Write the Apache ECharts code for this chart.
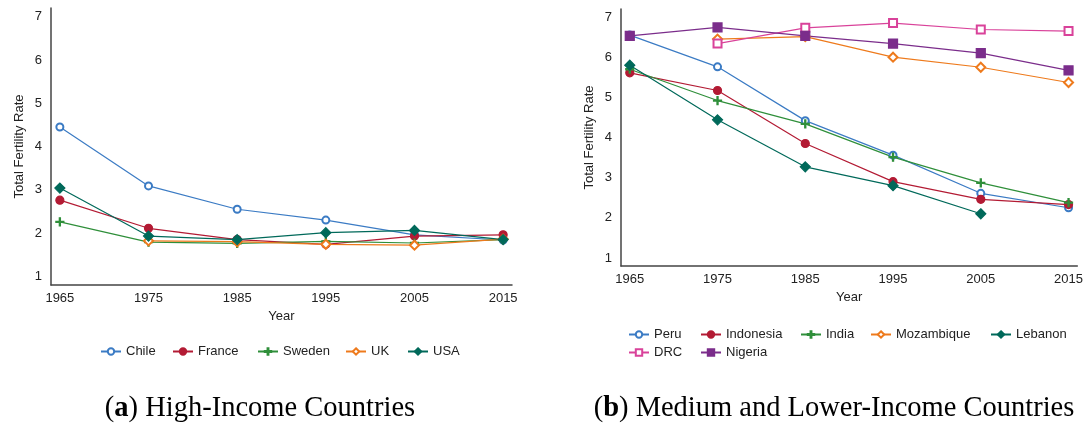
<!DOCTYPE html>
<html>
<head>
<meta charset="utf-8">
<script src="https://cdn.jsdelivr.net/npm/echarts@6/dist/echarts.min.js"></script>
<style>
  html, body { margin: 0; padding: 0; background: #fff; }
  #chart { width: 1086px; height: 425px; }
</style>
</head>
<body>
<div id="chart"></div>
<script>
// Survey years shared by both panels
const years = [1965, 1975, 1985, 1995, 2005, 2015];
const yTicks = [1, 2, 3, 4, 5, 6, 7];

// Panel (a): high-income countries, total fertility rate
const chile  = [4.45, 3.09, 2.55, 2.30, 1.96, 1.84];
const france = [2.76, 2.11, 1.85, 1.74, 1.93, 1.96];
const sweden = [2.26, 1.79, 1.76, 1.81, 1.77, 1.85];
const uk     = [null, 1.82, 1.80, 1.74, 1.72, 1.86];
const usa    = [3.04, 1.93, 1.85, 2.01, 2.06, 1.85];

// Panel (b): medium and lower-income countries
const peru       = [6.55, 5.76, 4.42, 3.56, 2.61, 2.25];
const indonesia  = [5.61, 5.17, 3.85, 2.90, 2.46, 2.33];
const india      = [5.70, 4.92, 4.34, 3.51, 2.87, 2.38];
const mozambique = [null, 6.45, 6.51, 6.00, 5.75, 5.37];
const lebanon    = [5.80, 4.44, 3.27, 2.80, 2.10, null];
const drc        = [null, 6.34, 6.73, 6.85, 6.69, 6.65];
const nigeria    = [6.53, 6.74, 6.53, 6.34, 6.10, 5.67];

const FONT = "'Liberation Sans', Arial, sans-serif";
const SERIF = "'Liberation Serif', 'Times New Roman', serif";
const TEXT = '#222';
const C = {
  blue: '#3b7bc4', red: '#b31b34', green: '#2f8f3a', orange: '#ee7a1c',
  teal: '#00695a', pink: '#d9429a', purple: '#7b2d8b'
};
const PLUS = 'path://M4.3,0 H5.7 V4.3 H10 V5.7 H5.7 V10 H4.3 V5.7 H0 V4.3 H4.3 Z';

function pairs(vals) {
  return years.map((y, i) => [y, vals[i]]);
}

function line(name, vals, idx, color, symbol, size) {
  return {
    name, type: 'line', xAxisIndex: idx, yAxisIndex: idx,
    data: pairs(vals), symbol, symbolSize: size, showAllSymbol: true,
    connectNulls: false, animation: false,
    lineStyle: { color, width: 1.2 },
    itemStyle: { color, borderColor: color, borderWidth: 1.2 },
    emphasis: { disabled: true }
  };
}

const series = [
  line('Chile', chile, 0, C.blue, 'emptyCircle', 7),
  line('France', france, 0, C.red, 'circle', 8),
  line('Sweden', sweden, 0, C.green, PLUS, 8),
  line('UK', uk, 0, C.orange, 'emptyDiamond', 9),
  line('USA', usa, 0, C.teal, 'diamond', 10),
  line('Peru', peru, 1, C.blue, 'emptyCircle', 7),
  line('Indonesia', indonesia, 1, C.red, 'circle', 8),
  line('India', india, 1, C.green, PLUS, 8),
  line('Mozambique', mozambique, 1, C.orange, 'emptyDiamond', 9),
  line('Lebanon', lebanon, 1, C.teal, 'diamond', 10),
  line('DRC', drc, 1, C.pink, 'emptyRect', 8),
  line('Nigeria', nigeria, 1, C.purple, 'rect', 9)
];

// Legend entries placed one by one: [name, left, top]
const legendSpots = [
  ['Chile', 100, 345], ['France', 172, 345], ['Sweden', 257, 345], ['UK', 345, 345], ['USA', 407, 345],
  ['Peru', 628, 328], ['Indonesia', 700, 328], ['India', 800, 328], ['Mozambique', 870, 328], ['Lebanon', 990, 328],
  ['DRC', 628, 346], ['Nigeria', 700, 346]
];
const legends = legendSpots.map(([name, left, top]) => ({
  data: [name], left, top, orient: 'horizontal', padding: 0,
  itemWidth: 20, itemHeight: 8, itemGap: 0, selectedMode: false,
  textStyle: { fontFamily: FONT, fontSize: 13, color: TEXT }
}));

function xAxis(idx) {
  return {
    type: 'value', gridIndex: idx, min: 1964, max: 2016,
    name: 'Year', nameLocation: 'middle', nameGap: 25,
    nameTextStyle: { fontFamily: FONT, fontSize: 13, color: TEXT },
    axisLine: { show: true, lineStyle: { color: '#444', width: 1.5 } },
    axisTick: { show: false },
    splitLine: { show: false },
    axisLabel: {
      customValues: years, margin: 7, fontFamily: FONT, fontSize: 13, color: TEXT,
      formatter: (v) => String(v)
    }
  };
}
function yAxis(idx) {
  return {
    type: 'value', gridIndex: idx, min: 0.8, max: 7.2,
    name: 'Total Fertility Rate', nameLocation: 'middle', nameGap: 25,
    nameTextStyle: { fontFamily: FONT, fontSize: 13, color: TEXT },
    axisLine: { show: true, lineStyle: { color: '#444', width: 1.5 } },
    axisTick: { show: false },
    splitLine: { show: false },
    axisLabel: { customValues: yTicks, margin: 9, fontFamily: FONT, fontSize: 13, color: TEXT }
  };
}

const capRich = {
  p: { fontFamily: SERIF, fontSize: 28.5, color: '#000' },
  b: { fontFamily: SERIF, fontSize: 28.5, fontWeight: 'bold', color: '#000' }
};

const option = {
  backgroundColor: '#fff',
  animation: false,
  grid: [
    { left: 51, top: 8, width: 461, height: 277 },
    { left: 621, top: 9, width: 460, height: 257 }
  ],
  xAxis: [xAxis(0), xAxis(1)],
  yAxis: [yAxis(0), yAxis(1)],
  legend: legends,
  series,
  graphic: [
    { type: 'text', x: 260, y: 409, style: { text: '{p|(}{b|a}{p|) High-Income Countries}', rich: capRich, align: 'center', verticalAlign: 'middle' } },
    { type: 'text', x: 834, y: 409, style: { text: '{p|(}{b|b}{p|) Medium and Lower-Income Countries}', rich: capRich, align: 'center', verticalAlign: 'middle' } }
  ]
};

const chart = echarts.init(document.getElementById('chart'), null, { renderer: 'canvas' });
chart.setOption(option);
</script>
</body>
</html>
